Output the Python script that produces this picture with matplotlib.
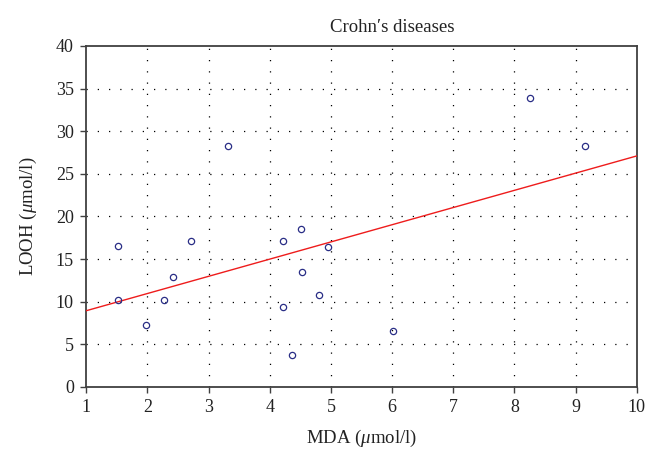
import numpy as np
import matplotlib
matplotlib.use("Agg")
import matplotlib.pyplot as plt

plt.rcParams['font.family'] = 'Liberation Serif'
plt.rcParams['mathtext.fontset'] = 'custom'
plt.rcParams['mathtext.it'] = 'Liberation Serif:italic'
plt.rcParams['mathtext.rm'] = 'Liberation Serif'

# MDA vs LOOH, Crohn's disease patients
mda = [1.51, 1.51, 1.98, 2.27, 2.42, 2.72, 3.31, 4.21, 4.51, 4.52,
       4.21, 4.36, 4.81, 4.96, 6.01, 8.26, 9.15]
looh = [16.5, 10.2, 7.3, 10.2, 12.9, 17.1, 28.3, 17.1, 18.5, 13.5,
        9.4, 3.8, 10.8, 16.4, 6.6, 33.9, 28.3]

# regression line
fit_x = [1, 10]
fit_y = [8.95, 27.1]

xticks = [1, 2, 3, 4, 5, 6, 7, 8, 9, 10]
yticks = [0, 5, 10, 15, 20, 25, 30, 35, 40]

fig = plt.figure(figsize=(6.5, 4.53), dpi=100)
ax = fig.add_axes([0.1328, 0.1457, 0.8467, 0.7528])

ax.plot(fit_x, fit_y, color='#ee1c1c', lw=1.0, zorder=3)
ax.plot(mda, looh, 'o', mfc='none', mec='#2a2e86', mew=0.9, ms=4.5, zorder=4)

ax.set_xlim(1, 10)
ax.set_ylim(0, 40)
ax.set_xticks(xticks)
ax.set_yticks(yticks)

# dotted grid inside, no line on the limits
for x in xticks[1:-1]:
    ax.axvline(x, color='black', lw=0.9, ls=(0, (1, 8)), zorder=1)
for y in yticks[1:-1]:
    ax.axhline(y, color='black', lw=0.9, ls=(0, (1, 8)), zorder=1)

for s in ax.spines.values():
    s.set_color('#404040')
    s.set_linewidth(1.3)

ax.tick_params(axis='both', direction='out', length=4, width=1.0, color='#404040',
               labelsize=13, labelcolor='#222222', pad=5)

ax.set_xlabel(r'MDA ($\mathit{\mu}$mol/l)', fontsize=13.5, color='#222222', labelpad=8)
ax.set_ylabel(r'LOOH ($\mathit{\mu}$mol/l)', fontsize=13.5, color='#222222', labelpad=12)

fig.text(392.5 / 650, 1 - 27 / 453, 'Crohn\u2032s diseases', ha='center', va='center',
         fontsize=13.5, color='#222222')

fig.savefig('out.png', dpi=100)
